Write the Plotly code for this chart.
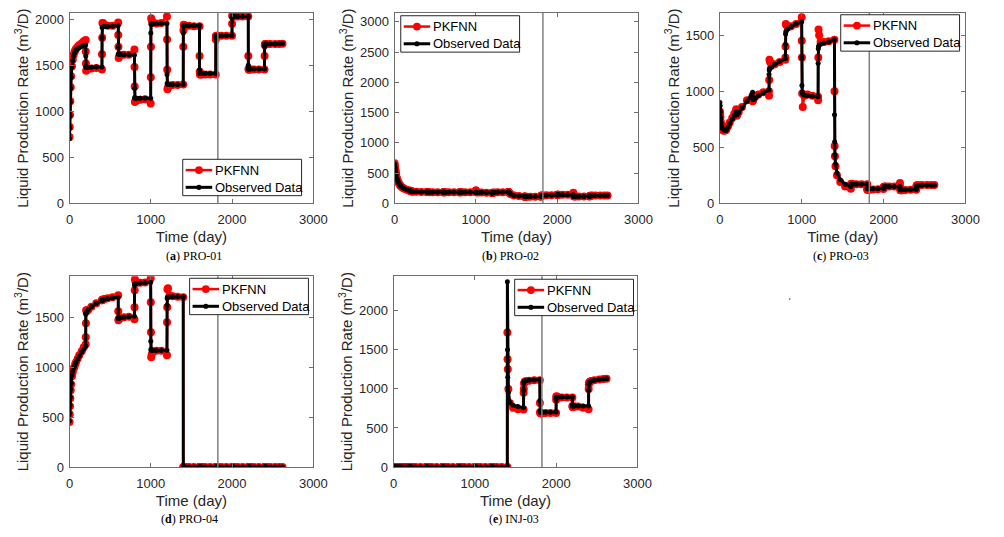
import plotly.graph_objects as go

# ---------------- data ----------------
days = [0, 3, 6, 10, 15, 20, 30, 40, 50, 60, 70, 80, 100, 120, 150, 175, 199,
        200, 202, 205, 212, 230, 270, 330, 399,
        400, 402, 405, 412, 430, 470, 530, 599,
        600, 602, 605, 612, 630, 670, 730, 799,
        800, 802, 805, 812, 830, 870, 930, 999,
        1000, 1002, 1005, 1012, 1030, 1070, 1130, 1199,
        1200, 1202, 1205, 1212, 1230, 1270, 1330, 1399,
        1400, 1402, 1405, 1412, 1430, 1470, 1530, 1599,
        1600, 1602, 1605, 1612, 1630, 1670, 1730, 1799,
        1800, 1802, 1805, 1812, 1830, 1870, 1930, 1999,
        2000, 2002, 2005, 2012, 2030, 2070, 2130, 2199,
        2200, 2202, 2205, 2212, 2230, 2270, 2330, 2399,
        2400, 2402, 2405, 2412, 2430, 2470, 2530, 2580, 2620]

split_day = 1825

obs_a = [700, 820, 950, 1100, 1250, 1370, 1480, 1550, 1600, 1630, 1650, 1665, 1680, 1690, 1705, 1712, 1720,
         1600, 1490, 1478, 1475, 1475, 1477, 1480, 1482,
         1800, 1910, 1915, 1918, 1920, 1922, 1925, 1930,
         1700, 1625, 1620, 1620, 1618, 1615, 1613, 1612,
         1250, 1150, 1140, 1140, 1140, 1140, 1140, 1140,
         1850, 1945, 1950, 1950, 1950, 1952, 1955, 1955,
         1400, 1305, 1295, 1290, 1290, 1288, 1288, 1290,
         1850, 1925, 1930, 1930, 1930, 1930, 1930, 1930,
         1450, 1415, 1410, 1410, 1410, 1410, 1410, 1410,
         1800, 1820, 1820, 1820, 1820, 1820, 1820, 1820,
         2020, 2030, 2030, 2030, 2030, 2030, 2030, 2030,
         1500, 1460, 1460, 1460, 1460, 1460, 1460, 1460,
         1700, 1725, 1730, 1730, 1730, 1730, 1732, 1733, 1735]
pkf_a = [720, 830, 960, 1110, 1260, 1380, 1490, 1560, 1610, 1640, 1660, 1680, 1700, 1720, 1740, 1760, 1775,
         1650, 1520, 1440, 1450, 1460, 1465, 1470, 1455,
         1620, 1800, 1960, 1960, 1940, 1930, 1930, 1965,
         1830, 1700, 1580, 1600, 1610, 1615, 1615, 1670,
         1480, 1270, 1100, 1110, 1120, 1125, 1130, 1085,
         1370, 1700, 2010, 1990, 1960, 1955, 1960, 2030,
         1780, 1450, 1240, 1260, 1280, 1285, 1285, 1290,
         1700, 1880, 1940, 1935, 1930, 1928, 1925, 1925,
         1600, 1430, 1400, 1400, 1400, 1400, 1400, 1400,
         1780, 1815, 1820, 1820, 1820, 1820, 1820, 1820,
         1950, 2040, 2035, 2030, 2030, 2030, 2030, 2030,
         1600, 1460, 1450, 1455, 1455, 1455, 1455, 1455,
         1600, 1720, 1730, 1730, 1730, 1730, 1730, 1732, 1733]

obs_b = [650, 620, 590, 550, 510, 470, 410, 370, 340, 315, 295, 280, 255, 240, 225, 215, 205,
         200, 198, 196, 195, 192, 190, 188, 186,
         185, 185, 185, 185, 184, 184, 183, 183,
         183, 183, 183, 182, 182, 182, 181, 181,
         181, 181, 181, 180, 180, 180, 180, 180,
         180, 180, 180, 179, 178, 176, 173, 170,
         170, 171, 172, 174, 177, 180, 183, 188,
         190, 188, 185, 175, 150, 130, 120, 115,
         112, 110, 110, 110, 110, 110, 110, 110,
         115, 125, 130, 130, 130, 132, 134, 135,
         140, 140, 140, 140, 140, 140, 140, 140,
         120, 112, 110, 110, 110, 110, 110, 112,
         118, 122, 125, 125, 127, 128, 130, 130, 130]
pkf_b = [660, 630, 600, 560, 520, 475, 415, 372, 340, 315, 295, 278, 255, 238, 225, 212, 205,
         205, 200, 197, 195, 192, 190, 188, 186,
         186, 185, 185, 185, 184, 184, 183, 183,
         183, 183, 183, 182, 182, 182, 181, 181,
         181, 181, 181, 180, 180, 180, 180, 182,
         215, 200, 185, 180, 178, 176, 173, 170,
         172, 171, 172, 174, 177, 180, 183, 188,
         188, 185, 180, 170, 148, 128, 118, 112,
         110, 108, 108, 108, 108, 108, 108, 108,
         112, 125, 130, 130, 130, 132, 134, 135,
         142, 140, 140, 140, 140, 140, 140, 142,
         175, 140, 115, 110, 110, 110, 110, 112,
         116, 122, 125, 125, 127, 128, 130, 130, 130]

obs_c = [900, 870, 820, 760, 720, 690, 670, 660, 655, 650, 650, 655, 680, 710, 750, 780, 815,
         800, 790, 790, 795, 810, 850, 910, 990,
         950, 930, 925, 925, 935, 960, 985, 1010,
         1150, 1190, 1200, 1205, 1215, 1240, 1265, 1290,
         1420, 1510, 1530, 1540, 1555, 1575, 1600, 1620,
         1300, 1050, 990, 975, 965, 960, 955, 950,
         1250, 1380, 1400, 1410, 1420, 1430, 1440, 1460,
         790, 550, 430, 350, 270, 210, 170, 150,
         165, 170, 170, 170, 170, 170, 170, 170,
         135, 130, 130, 130, 130, 130, 130, 132,
         140, 145, 148, 150, 150, 150, 150, 150,
         130, 122, 120, 120, 120, 120, 120, 122,
         140, 150, 155, 155, 158, 160, 160, 160, 160]
pkf_c = [820, 800, 770, 730, 700, 675, 660, 650, 650, 650, 652, 660, 690, 720, 760, 800, 840,
         830, 800, 780, 790, 815, 860, 920, 960,
         910, 920, 925, 935, 950, 970, 990, 1000,
         960, 1100, 1280, 1260, 1230, 1240, 1260, 1280,
         1300, 1400, 1600, 1590, 1570, 1580, 1600, 1660,
         1450, 1300, 980, 860, 960, 970, 960, 950,
         920, 1300, 1550, 1500, 1440, 1440, 1445, 1460,
         1000, 510, 420, 330, 250, 190, 150, 130,
         160, 170, 175, 172, 170, 170, 170, 170,
         125, 120, 120, 120, 120, 122, 125, 128,
         140, 145, 148, 150, 150, 150, 150, 150,
         180, 130, 115, 115, 115, 118, 120, 120,
         140, 155, 160, 160, 160, 162, 162, 162, 162]

obs_d = [460, 540, 620, 700, 780, 840, 920, 960, 990, 1010, 1030, 1050, 1080, 1110, 1150, 1180, 1210,
         1530, 1540, 1545, 1555, 1575, 1605, 1640, 1665,
         1670, 1670, 1672, 1675, 1680, 1685, 1692, 1700,
         1490, 1490, 1490, 1492, 1495, 1500, 1505, 1510,
         1820, 1830, 1835, 1838, 1840, 1842, 1845, 1850,
         1260, 1180, 1170, 1170, 1168, 1168, 1168, 1170,
         1620, 1690, 1700, 1700, 1705, 1705, 1705, 1705,
         0, 0, 0, 0, 0, 0, 0, 0,
         0, 0, 0, 0, 0, 0, 0, 0,
         0, 0, 0, 0, 0, 0, 0, 0,
         0, 0, 0, 0, 0, 0, 0, 0,
         0, 0, 0, 0, 0, 0, 0, 0,
         0, 0, 0, 0, 0, 0, 0, 0, 0]
pkf_d = [450, 530, 610, 690, 770, 830, 910, 950, 985, 1005, 1030, 1050, 1085, 1120, 1160, 1200, 1230,
         1300, 1440, 1570, 1560, 1575, 1605, 1640, 1670,
         1670, 1672, 1675, 1678, 1682, 1690, 1700, 1720,
         1560, 1470, 1480, 1490, 1495, 1500, 1505, 1480,
         1600, 1770, 1880, 1860, 1845, 1845, 1848, 1890,
         1650, 1350, 1100, 1130, 1160, 1165, 1165, 1120,
         1450, 1600, 1780, 1790, 1720, 1710, 1705, 1700,
         0, 0, 0, 0, 0, 0, 0, 0,
         0, 0, 0, 0, 0, 0, 0, 0,
         0, 0, 0, 0, 0, 0, 0, 0,
         0, 0, 0, 0, 0, 0, 0, 0,
         0, 0, 0, 0, 0, 0, 0, 0,
         0, 0, 0, 0, 0, 0, 0, 0, 0]

obs_e = [0, 0, 0, 0, 0, 0, 0, 0, 0, 0, 0, 0, 0, 0, 0, 0, 0,
         0, 0, 0, 0, 0, 0, 0, 0,
         0, 0, 0, 0, 0, 0, 0, 0,
         0, 0, 0, 0, 0, 0, 0, 0,
         0, 0, 0, 0, 0, 0, 0, 0,
         0, 0, 0, 0, 0, 0, 0, 0,
         0, 0, 0, 0, 0, 0, 0, 0,
         2370, 1500, 1150, 950, 830, 790, 775, 760,
         980, 1080, 1095, 1100, 1105, 1110, 1115, 1120,
         850, 720, 705, 700, 700, 700, 700, 705,
         870, 890, 892, 893, 894, 895, 895, 895,
         790, 780, 780, 780, 780, 780, 780, 780,
         980, 1060, 1080, 1090, 1100, 1110, 1120, 1125, 1130]
pkf_e = [0, 0, 0, 0, 0, 0, 0, 0, 0, 0, 0, 0, 0, 0, 0, 0, 0,
         0, 0, 0, 0, 0, 0, 0, 0,
         0, 0, 0, 0, 0, 0, 0, 0,
         0, 0, 0, 0, 0, 0, 0, 0,
         0, 0, 0, 0, 0, 0, 0, 0,
         0, 0, 0, 0, 0, 0, 0, 0,
         0, 0, 0, 0, 0, 0, 0, 0,
         1720, 1380, 1250, 1000, 820, 760, 740, 735,
         950, 1000, 1070, 1090, 1100, 1105, 1110, 1110,
         820, 700, 690, 685, 685, 690, 690, 690,
         860, 900, 905, 895, 890, 890, 890, 890,
         780, 770, 765, 770, 775, 775, 760, 740,
         1000, 1060, 1080, 1090, 1100, 1110, 1120, 1125, 1130]

panel_letters = ["a", "b", "c", "d", "e"]
well_names = ["PRO-01", "PRO-02", "PRO-03", "PRO-04", "INJ-03"]
series_names = ["PKFNN", "Observed Data"]
observed = [obs_a, obs_b, obs_c, obs_d, obs_e]
predicted = [pkf_a, pkf_b, pkf_c, pkf_d, pkf_e]
y_limits = [2070, 3150, 1700, 1910, 2440]
y_ticks = [[0, 500, 1000, 1500, 2000],
           [0, 500, 1000, 1500, 2000, 2500, 3000],
           [0, 500, 1000, 1500],
           [0, 500, 1000, 1500],
           [0, 500, 1000, 1500, 2000]]
x_ticks = [0, 1000, 2000, 3000]
x_limit = [0, 3000]

# ---------------- layout geometry (pixels) ----------------
W, H = 1004, 537
boxes = [  # left, right, top, bottom
    (66.7, 315.0, 12.0, 205.7),
    (397.7, 646.0, 12.0, 205.7),
    (729.0, 979.0, 12.0, 205.7),
    (66.7, 315.0, 280.0, 474.0),
    (396.7, 645.0, 280.0, 474.0),
]
legend_box = [(182, 161), (404, 15), (852, 14), (189, 282), (520, 283)]  # left, top
LEG_W, LEG_H = 121, 37
caption_pos = [(193, 259), (516, 259), (852, 259), (189, 527), (519, 527)]

AX_COLOR = "#6e6e6e"
TXT_COLOR = "#262626"
FONT = "Liberation Sans, Arial, sans-serif"
RED, BLACK = "#ff0000", "#000000"


def px(x):
    return x / W


def py(y):
    return 1 - y / H


fig = go.Figure()
layout = dict(
    width=W, height=H,
    margin=dict(l=0, r=0, t=0, b=0),
    paper_bgcolor="white", plot_bgcolor="white",
    font=dict(family=FONT, color=TXT_COLOR, size=13),
    showlegend=False,
    annotations=[], shapes=[],
)

for i in range(5):
    n = "" if i == 0 else str(i + 1)
    xa, ya = "x" + n, "y" + n
    l, r, t, b = boxes[i]
    fig.add_trace(go.Scatter(
        x=days, y=predicted[i], mode="lines+markers", name=series_names[0],
        line=dict(color=RED, width=2.5), marker=dict(color=RED, size=8),
        xaxis=xa, yaxis=ya))
    fig.add_trace(go.Scatter(
        x=days, y=observed[i], mode="lines+markers", name=series_names[1],
        line=dict(color=BLACK, width=3), marker=dict(color=BLACK, size=5),
        xaxis=xa, yaxis=ya))

    common = dict(showline=True, linecolor=AX_COLOR, linewidth=1, mirror="ticks",
                  ticks="inside", ticklen=4, tickcolor=AX_COLOR, showgrid=False,
                  zeroline=False, tickfont=dict(size=13, color=TXT_COLOR, family=FONT))
    layout["xaxis" + n] = dict(
        common, domain=[px(l), px(r)], anchor=ya, range=x_limit, tickvals=x_ticks,
        ticklabelstandoff=4,
        title=dict(text="Time (day)", font=dict(size=15, color=TXT_COLOR, family=FONT), standoff=5))
    layout["yaxis" + n] = dict(
        common, domain=[py(b), py(t)], anchor=xa, range=[0, y_limits[i]],
        tickvals=y_ticks[i], ticklabelstandoff=2,
        title=dict(text="Liquid Production Rate (m<sup>3</sup>/D)",
                   font=dict(size=15, color=TXT_COLOR, family=FONT), standoff=2))

    # split line (train / test boundary)
    layout["shapes"].append(dict(
        type="line", xref=xa, yref=ya + " domain", x0=split_day, x1=split_day,
        y0=0, y1=1, line=dict(color="#808080", width=1.5), layer="above"))

    # legend box (MATLAB style)
    L, T = legend_box[i]
    layout["shapes"].append(dict(
        type="rect", xref="paper", yref="paper",
        x0=px(L), x1=px(L + LEG_W), y0=py(T + LEG_H), y1=py(T),
        fillcolor="white", line=dict(color="#262626", width=1), layer="above"))
    rows = [(T + 11, RED, 2.5, 4), (T + 28.5, BLACK, 3, 2.6)]
    for (ry, col, lw, mr), label in zip(rows, series_names):
        layout["shapes"].append(dict(
            type="line", xref="paper", yref="paper",
            x0=px(L + 3), x1=px(L + 30), y0=py(ry), y1=py(ry),
            line=dict(color=col, width=lw), layer="above"))
        layout["shapes"].append(dict(
            type="circle", xref="paper", yref="paper",
            x0=px(L + 16.5 - mr), x1=px(L + 16.5 + mr), y0=py(ry + mr), y1=py(ry - mr),
            fillcolor=col, line=dict(width=0), layer="above"))
        layout["annotations"].append(dict(
            text=label, x=px(L + 31), y=py(ry), xref="paper", yref="paper",
            xanchor="left", yanchor="middle", showarrow=False,
            font=dict(size=13, color="#000000", family=FONT)))

    cx, cy = caption_pos[i]
    layout["annotations"].append(dict(
        text="(<b>%s</b>) %s" % (panel_letters[i], well_names[i]),
        x=px(cx), y=py(cy), xref="paper", yref="paper",
        xanchor="center", yanchor="middle", showarrow=False,
        font=dict(family="Liberation Serif, Times New Roman, serif", size=12, color="#000000")))

# tiny stray dot present in the source image
layout["shapes"].append(dict(type="circle", xref="paper", yref="paper",
                             x0=px(799), x1=px(801), y0=py(304), y1=py(302),
                             fillcolor="#888888", line=dict(width=0)))

fig.update_layout(**layout)
fig.write_html("out.html")
